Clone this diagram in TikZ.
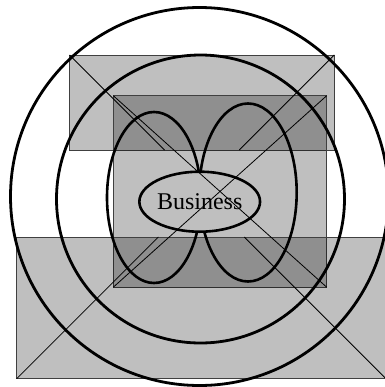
\documentclass[tikz,border=0pt]{standalone}
\usepackage{fontspec}
\setmainfont{Liberation Serif}
\usetikzlibrary{shapes.geometric}
\begin{document}
\begin{tikzpicture}[x=1bp,y=-1bp,
  panel/.style={fill=black, fill opacity=0.25, draw=black!75, line width=0.9bp},
  cross/.style={draw=black, line width=0.8bp},
  ring/.style={draw=black, line width=2.8bp},
  hub/.style={draw=black, line width=2.6bp, ellipse, minimum width=114bp, minimum height=60bp, inner sep=0pt, font=\fontsize{24bp}{28bp}\selectfont}
]
\useasboundingbox (0,0) rectangle (385,387);
\fill[white] (0,0) rectangle (385,387);
\clip (0,0) rectangle (385,387);
% corners
\coordinate (t1) at (69.5,55);   \coordinate (t2) at (334.3,55);
\coordinate (t3) at (164.5,150); \coordinate (t4) at (239.3,150);
\coordinate (m1) at (113.3,95.7); \coordinate (m2) at (326.7,95.7);
\coordinate (m3) at (326.7,287.2); \coordinate (m4) at (113.3,287.2);
\coordinate (b1) at (16.7,378.7); \coordinate (b2) at (386,378.7);
\coordinate (b3) at (158.4,237);  \coordinate (b4) at (244.3,237);
% panels
\path[panel] (t1) rectangle (334.3,150);
\path[panel] (m1) rectangle (m3);
\path[panel] (16.7,237) rectangle (b2);
% cross lines
\draw[cross] (t1) -- (t3);
\draw[cross] (t2) -- (t4);
\draw[cross] (m1) -- (m3);
\draw[cross] (m2) -- (m4);
\draw[cross] (b1) -- (b3);
\draw[cross] (b2) -- (b4);
% rings
\draw[ring] (199.5,196.5) circle (189);
\draw[ring] (200.5,199) circle (144);
% loops around the hub
\begin{scope}[even odd rule]
  \clip (0,0) rectangle (385,387) (199.7,201.7) ellipse (57 and 30);
  \draw[ring, line width=2.6bp] (154,197.5) ellipse (47 and 85.5);
  \draw[ring, line width=2.6bp] (248,192.5) ellipse (48.7 and 89);
\end{scope}
\node[hub] (biz) at (199.7,201.7) {Business};
\end{tikzpicture}
\end{document}
